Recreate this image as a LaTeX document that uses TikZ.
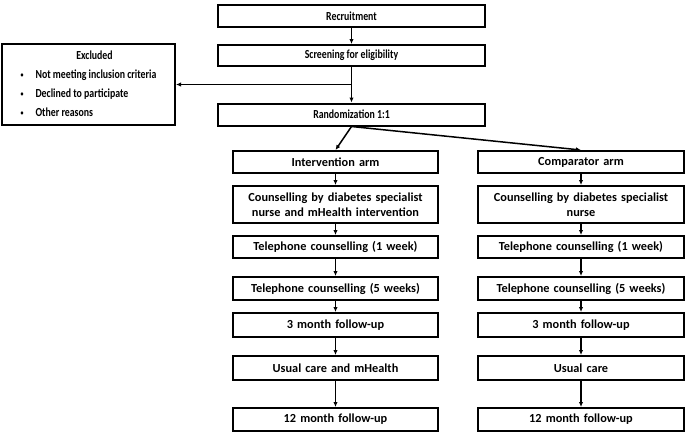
\documentclass[tikz,border=0pt]{standalone}
\usepackage{fontspec}
\setmainfont{Carlito}
\newfontfamily\narrowfont[FakeStretch=0.8]{Carlito}
\usetikzlibrary{arrows.meta}
\newcommand{\smalldot}{\raisebox{1pt}{\scalebox{0.6}{\textbullet}}}
\begin{document}
\begin{tikzpicture}[x=1pt,y=-1pt,
        font=\fontsize{12.3}{14.5}\selectfont\bfseries,
        stage/.style={draw,line width=2pt,minimum height=22pt,inner sep=1pt,align=center},
        narrow/.style={font=\fontsize{12.3}{14.5}\narrowfont\bfseries},
        wide/.style={stage,narrow,minimum width=267pt},
        armbox/.style={stage,minimum width=205pt,text width=200pt},
        arr/.style={line width=1.5pt,-{Latex[length=5pt,width=4.5pt]}}
        ]
        \useasboundingbox (0,0) rectangle (685,432);
        \node[wide] (recr) at (351.5,16) {Recruitment};
        \node[wide,minimum height=21pt] (screen) at (351.5,55.5) {Screening for eligibility};
        \node[wide] (rand) at (351.5,114.5) {Randomization 1:1};
        \node[stage,narrow,minimum width=173pt,minimum height=81pt] (excl) at (88.5,84.5) {%
            \renewcommand{\arraystretch}{1.31}%
            \begin{tabular}{@{}l@{\hspace{12pt}}l@{}}
                \multicolumn{2}{c}{\hspace{12pt}Excluded}\\
                \smalldot & Not meeting inclusion criteria\\
                \smalldot & Declined to participate\\
                \smalldot & Other reasons
            \end{tabular}};
        % intervention arm
        \node[armbox] (int) at (335.5,162) {Intervention arm};
        \node[armbox,minimum height=37pt] (icoun) at (335.5,204.5) {Counselling by diabetes specialist\\nurse and mHealth intervention};
        \node[armbox] (itel1) at (335.5,247) {Telephone counselling (1 week)};
        \node[armbox,minimum height=23pt] (itel5) at (335.5,288.5) {Telephone counselling (5 weeks)};
        \node[armbox,minimum height=24pt] (ithree) at (335.5,325) {3 month follow-up};
        \node[armbox,minimum height=24pt] (iusual) at (335.5,368) {Usual care and mHealth};
        \node[armbox,minimum height=23pt] (itwelve) at (335.5,419.5) {12 month follow-up};
        % comparator arm
        \node[armbox,minimum width=206pt] (comp) at (581,162) {Comparator arm};
        \node[armbox,minimum width=206pt,minimum height=37pt] (ccoun) at (581,204.5) {Counselling by diabetes specialist\\nurse};
        \node[armbox,minimum width=206pt] (ctel1) at (581,247) {Telephone counselling (1 week)};
        \node[armbox,minimum width=206pt,minimum height=23pt] (ctel5) at (581,288.5) {Telephone counselling (5 weeks)};
        \node[armbox,minimum width=206pt,minimum height=24pt] (cthree) at (581,325) {3 month follow-up};
        \node[armbox,minimum width=206pt,minimum height=24pt] (cusual) at (581,368) {Usual care};
        \node[armbox,minimum width=206pt,minimum height=23pt] (ctwelve) at (581,419.5) {12 month follow-up};
        \draw[arr] (recr) -- (screen);
        \draw[arr] (screen) -- (rand);
        \draw[arr] (screen.south |- excl.east) -- (excl.east);
        \draw[arr] (rand.south) -- (int.north);
        \draw[arr] (rand.south) -- (comp.north);
        \foreach \a/\b in {int/icoun,icoun/itel1,itel1/itel5,itel5/ithree,ithree/iusual,iusual/itwelve,
                comp/ccoun,ccoun/ctel1,ctel1/ctel5,ctel5/cthree,cthree/cusual,cusual/ctwelve}
            \draw[arr] (\a) -- (\b);
    \end{tikzpicture}
\end{document}
